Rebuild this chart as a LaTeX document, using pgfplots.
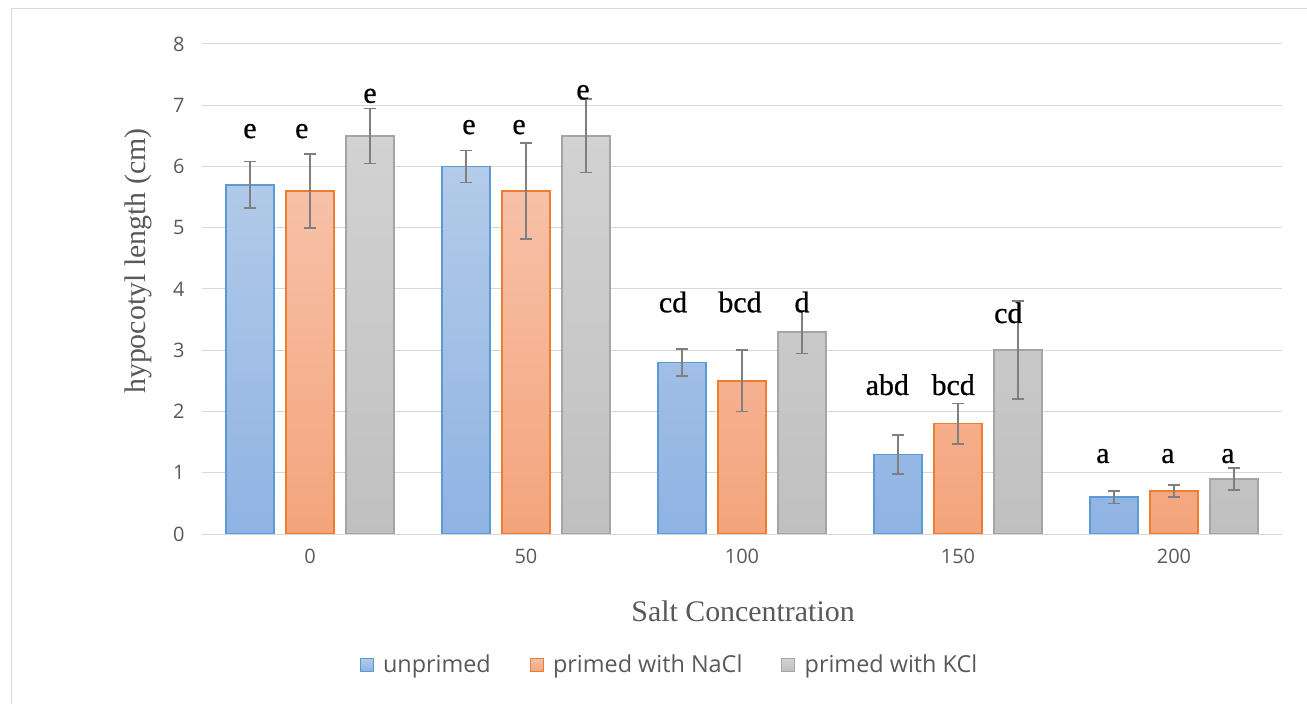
\documentclass[border=0pt]{standalone}
\usepackage{fontspec}
\setmainfont{Liberation Serif}
\newfontfamily\sansf{Open Sans}
\newfontfamily\letf[FakeBold=0.7]{Liberation Serif}
\usepackage{pgfplots}
\pgfplotsset{compat=1.18}
\usepackage{pgfplotstable}
\definecolor{tickgray}{HTML}{595959}
\definecolor{gridgray}{HTML}{D9D9D9}
\definecolor{errgray}{HTML}{7F7F7F}
\definecolor{bluetop}{HTML}{B4CBE9}
\definecolor{bluebot}{HTML}{8FB3E3}
\definecolor{blueline}{HTML}{5B9BD5}
\definecolor{orangetop}{HTML}{F7C1A8}
\definecolor{orangebot}{HTML}{F4A47C}
\definecolor{orangeline}{HTML}{ED7D31}
\definecolor{graytop}{HTML}{D2D2D2}
\definecolor{graybot}{HTML}{C0C0C0}
\definecolor{grayline}{HTML}{A5A5A5}

\pgfplotstableread{
x y err
0 5.7 0.38
1 6.0 0.26
2 2.8 0.22
3 1.3 0.32
4 0.6 0.10
}\unprimed
\pgfplotstableread{
x y err
0 5.6 0.60
1 5.6 0.78
2 2.5 0.50
3 1.8 0.33
4 0.7 0.10
}\nacl
\pgfplotstableread{
x y err
0 6.5 0.45
1 6.5 0.60
2 3.3 0.35
3 3.0 0.80
4 0.9 0.18
}\kcl

\begin{document}
\begin{tikzpicture}
\useasboundingbox (0,0) rectangle (1307bp,704bp);
\draw[gridgray, line width=1bp] (11bp,0) -- (11bp,695bp) -- (1307bp,695bp);
\begin{axis}[
  at={(202bp,170bp)}, anchor=south west,
  scale only axis, width=1080bp, height=490bp,
  ybar, bar width=0.2222,
  xmin=-0.5, xmax=4.5, ymin=0, ymax=8,
  xtick={0,1,2,3,4}, xticklabels={0,50,100,150,200},
  ytick={0,1,2,3,4,5,6,7,8},
  /pgf/number format/assume math mode=true,
  ymajorgrids, grid style={gridgray, line width=1bp},
  axis x line*=bottom, axis y line*=left,
  x axis line style={draw=gridgray, line width=1bp, -},
  y axis line style={draw=none},
  major tick length=0pt,
  ticklabel style={font=\sansf\fontsize{20}{24}\selectfont, text=tickgray},
  yticklabel style={xshift=-14bp},
  xticklabel style={yshift=-12bp},
  xlabel={Salt Concentration},
  ylabel={hypocotyl length (cm)},
  every axis x label/.style={at={(axis description cs:0.501,-0.1586)}, anchor=center, font=\fontsize{30}{36}\selectfont, text=tickgray},
  every axis y label/.style={at={(axis description cs:-0.0593,0.557)}, rotate=90, anchor=center, font=\fontsize{30}{36}\selectfont, text=tickgray},
  legend style={at={(axis description cs:0.4329,-0.267)}, anchor=center, draw=none, fill=none,
    legend columns=3, font=\sansf\fontsize{23.5}{26}\selectfont, text=tickgray,
    /tikz/every even column/.append style={column sep=37bp}},
  legend image code/.code={\draw[#1, line width=1bp] (0bp,-6.5bp) rectangle (13bp,6.5bp); \path (20bp,0bp);},
  error bars/y dir=both, error bars/y explicit,
  error bars/error bar style={draw=errgray, line width=1.6bp},
  error bars/error mark options={draw=errgray, rotate=90, mark size=6bp, line width=1.6bp},
]
\addplot[bar shift=-0.2778, draw=blueline, line width=1.5bp, top color=bluetop, bottom color=bluebot]
  table[x=x, y=y, y error=err]{\unprimed};
\addlegendentry{unprimed}
\addplot[bar shift=0, draw=orangeline, line width=1.5bp, top color=orangetop, bottom color=orangebot]
  table[x=x, y=y, y error=err]{\nacl};
\addlegendentry{primed with NaCl}
\addplot[bar shift=0.2778, draw=grayline, line width=1.5bp, top color=graytop, bottom color=graybot]
  table[x=x, y=y, y error=err]{\kcl};
\addlegendentry{primed with KCl}

\tikzset{lett/.style={anchor=base, font=\letf\fontsize{30}{36}\selectfont, text=black, inner sep=0pt}}
\node[lett] at (axis cs:-0.278,6.465) {e};
\node[lett] at (axis cs:-0.038,6.465) {e};
\node[lett] at (axis cs:0.278,7.04) {e};
\node[lett] at (axis cs:0.736,6.53) {e};
\node[lett] at (axis cs:0.968,6.53) {e};
\node[lett] at (axis cs:1.264,7.10) {e};
\node[lett] at (axis cs:1.681,3.62) {cd};
\node[lett] at (axis cs:1.991,3.62) {bcd};
\node[lett] at (axis cs:2.278,3.62) {d};
\node[lett] at (axis cs:2.673,2.27) {abd};
\node[lett] at (axis cs:2.978,2.27) {bcd};
\node[lett] at (axis cs:3.233,3.445) {cd};
\node[lett] at (axis cs:3.671,1.16) {a};
\node[lett] at (axis cs:3.972,1.16) {a};
\node[lett] at (axis cs:4.25,1.16) {a};
\end{axis}
\end{tikzpicture}
\end{document}
